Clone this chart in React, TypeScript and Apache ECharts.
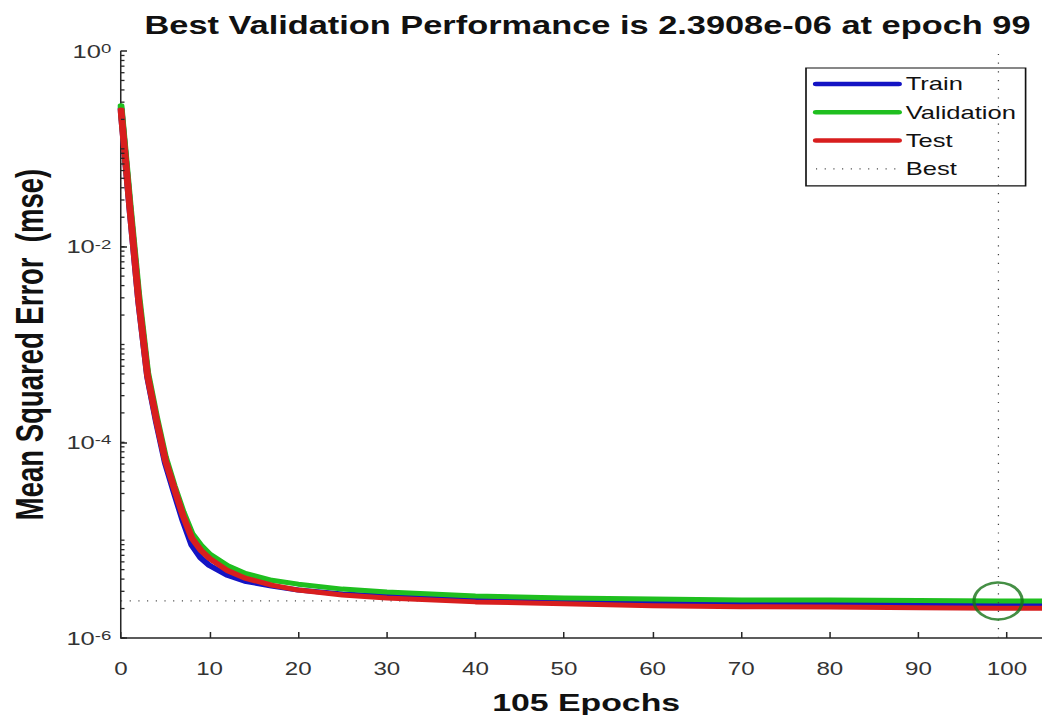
import React, { useEffect, useRef } from 'react';
import * as echarts from 'echarts';

// Horizontal stretch of the original figure
const S = 1.38;
const FONT = 'Liberation Sans, Arial, Helvetica, sans-serif';

const epochs = [0, 1, 2, 3, 4, 5, 6, 7, 8, 9, 10, 12, 14, 17, 20, 25, 30, 40, 50, 60, 70, 80, 90, 99, 105];
const trainMse = [2.57e-1, 2.5e-2, 2.75e-3, 4.7e-4, 1.62e-4, 6.2e-5, 3.1e-5, 1.58e-5, 8.9e-6, 6.6e-6, 5.5e-6, 4.37e-6, 3.8e-6, 3.39e-6, 3.09e-6, 2.82e-6, 2.69e-6, 2.45e-6, 2.37e-6, 2.32e-6, 2.29e-6, 2.26e-6, 2.24e-6, 2.24e-6, 2.23e-6];
const validationMse = [2.75e-1, 2.8e-2, 3.2e-3, 5.2e-4, 1.82e-4, 7.1e-5, 3.6e-5, 1.95e-5, 1.17e-5, 8.9e-6, 7.2e-6, 5.5e-6, 4.57e-6, 3.89e-6, 3.55e-6, 3.16e-6, 2.95e-6, 2.69e-6, 2.57e-6, 2.51e-6, 2.45e-6, 2.44e-6, 2.42e-6, 2.3908e-6, 2.39e-6];
const testMse = [2.5e-1, 2.5e-2, 2.8e-3, 4.8e-4, 1.7e-4, 6.6e-5, 3.4e-5, 1.78e-5, 1.05e-5, 7.9e-6, 6.5e-6, 4.9e-6, 4.1e-6, 3.47e-6, 3.09e-6, 2.75e-6, 2.57e-6, 2.34e-6, 2.24e-6, 2.14e-6, 2.09e-6, 2.07e-6, 2.04e-6, 2.02e-6, 2.02e-6];

const bestEpoch = 99;
const bestPerf = 2.3908e-6;
const xMin = 0;
const xMax = 105;
const yMin = 1e-6;
const yMax = 1;
const minorDecades = [-6, -5, -4, -3, -2, -1];
const minorMantissas = [1, 2, 3, 4, 5, 6, 7, 8, 9];

const COLORS = { train: '#1414c4', validation: '#1fbf1f', test: '#d81e1e', best: '#444', circle: '#177317' };

const minorTickValues: number[] = [];
minorDecades.forEach((d) => minorMantissas.forEach((m) => minorTickValues.push(m * Math.pow(10, d))));

const pairs = (ys: number[]) => epochs.map((e, i) => [e, ys[i]]);

const lineSeries = (name: string, color: string, ys: number[]) => ({
  name,
  type: 'line',
  data: pairs(ys),
  symbol: 'none',
  showSymbol: false,
  smooth: false,
  lineStyle: { color, width: 5, cap: 'round', join: 'round' },
  itemStyle: { color },
  z: 3,
});

export default function App() {
  const ref = useRef<HTMLDivElement>(null);
  useEffect(() => {
    const chart = echarts.init(ref.current!, null, { renderer: 'svg' });
    const option: any = {
      animation: false,
      backgroundColor: '#fff',
      textStyle: { fontFamily: FONT },
      title: {
        text: 'Best Validation Performance is 2.3908e-06 at epoch 99',
        left: 121 / S + (xMax * 8.86) / S / 2 + 1,
        textAlign: 'center',
        top: 13,
        padding: 0,
        textStyle: { fontSize: 24.9, fontWeight: 'bold', color: '#111', fontFamily: FONT },
      },
      legend: {
        data: [
          { name: 'Train', lineStyle: { width: 4.5 } },
          { name: 'Validation', lineStyle: { width: 4.5 } },
          { name: 'Test', lineStyle: { width: 4.5 } },
          { name: 'Best', lineStyle: { width: 1.2 } },
        ],
        orient: 'vertical',
        left: 806 / S,
        top: 68,
        itemWidth: 60,
        itemHeight: 20,
        itemGap: 8.3,
        padding: [6, 7, 7, 5],
        borderColor: '#111',
        borderWidth: 1.2,
        backgroundColor: '#fff',
        selectedMode: false,
        itemStyle: { opacity: 0 },
        textStyle: { fontSize: 18.5, color: '#111', fontFamily: FONT, lineHeight: 20 },
      },
      grid: {
        left: 121 / S,
        top: 51,
        width: (xMax * 8.86) / S,
        height: 587,
        containLabel: false,
        outerBoundsMode: 'none',
      },
      xAxis: {
        type: 'value',
        min: xMin,
        max: xMax,
        interval: 10,
        name: '105 Epochs',
        nameLocation: 'middle',
        nameGap: 52,
        nameTextStyle: { fontSize: 24.5, fontWeight: 'bold', color: '#111', fontFamily: FONT },
        axisLine: { show: true, lineStyle: { color: '#262626', width: 1.5 } },
        axisTick: { show: true, inside: true, length: 6, lineStyle: { color: '#262626', width: 1.1 } },
        axisLabel: { fontSize: 17.5, color: '#333', margin: 22, lineHeight: 18, fontFamily: FONT, showMaxLabel: false },
        splitLine: { show: false },
      },
      yAxis: {
        type: 'log',
        logBase: 10,
        min: yMin,
        max: yMax,
        interval: 2,
        name: 'Mean Squared Error  (mse)',
        nameLocation: 'middle',
        nameGap: 52,
        nameTextStyle: { fontSize: 27.5, fontWeight: 'bold', color: '#111', fontFamily: FONT },
        axisLine: { show: true, lineStyle: { color: '#262626', width: 1.1 } },
        axisTick: { show: true, inside: true, length: 6 / S, lineStyle: { color: '#262626', width: 1.5 } },
        axisLabel: {
          margin: 7,
          formatter: (v: number) => {
            const e = Math.round(Math.log10(v));
            return `{b|10}{s|${e}}`;
          },
          rich: {
            b: { fontSize: 18.5, color: '#333', fontFamily: FONT, lineHeight: 20, padding: [5, 0, 0, 0], verticalAlign: 'bottom' },
            s: { fontSize: 13.5, color: '#333', fontFamily: FONT, lineHeight: 14, verticalAlign: 'top' },
          },
        },
        splitLine: { show: false },
        minorTick: { show: false },
      },
      series: [
        {
          name: 'Best',
          type: 'line',
          data: [[xMin, bestPerf], [xMax, bestPerf]],
          symbol: 'none',
          showSymbol: false,
          lineStyle: { color: COLORS.best, width: 1.2, type: [0.8, 5.5] },
          itemStyle: { color: COLORS.best },
          z: 2,
          markLine: {
            silent: true,
            symbol: ['none', 'none'],
            label: { show: false },
            lineStyle: { color: COLORS.best, width: 0.9, type: [1.2, 7.5] },
            data: [{ xAxis: bestEpoch }],
          },
        },
        lineSeries('Train', COLORS.train, trainMse),
        lineSeries('Validation', COLORS.validation, validationMse),
        lineSeries('Test', COLORS.test, testMse),
        {
          name: 'BestPoint',
          type: 'scatter',
          data: [[bestEpoch, bestPerf]],
          symbol: 'circle',
          symbolSize: [35, 37],
          itemStyle: { color: 'rgba(0,0,0,0)', borderColor: COLORS.circle, borderWidth: 2.4 },
          z: 6,
          silent: true,
        },
        {
          name: 'minorTicks',
          type: 'custom',
          silent: true,
          z: 5,
          clip: false,
          data: minorTickValues.map((v) => [0, v]),
          renderItem: (_params: any, api: any) => {
            const p = api.coord([0, api.value(1)]);
            return {
              type: 'line',
              shape: { x1: p[0], y1: p[1], x2: p[0] + 3.5 / S, y2: p[1] },
              style: { stroke: '#262626', lineWidth: 1.3 },
            };
          },
        },
      ],
    };
    chart.setOption(option);
    return () => chart.dispose();
  }, []);
  return (
    <div style={{ position: 'fixed', left: 0, top: 0, width: 1042, height: 715, overflow: 'hidden', background: '#fff' }}>
      <div
        ref={ref}
        style={{ width: 1042 / S, height: 715, transform: `scaleX(${S})`, transformOrigin: '0 0' }}
      />
    </div>
  );
}
